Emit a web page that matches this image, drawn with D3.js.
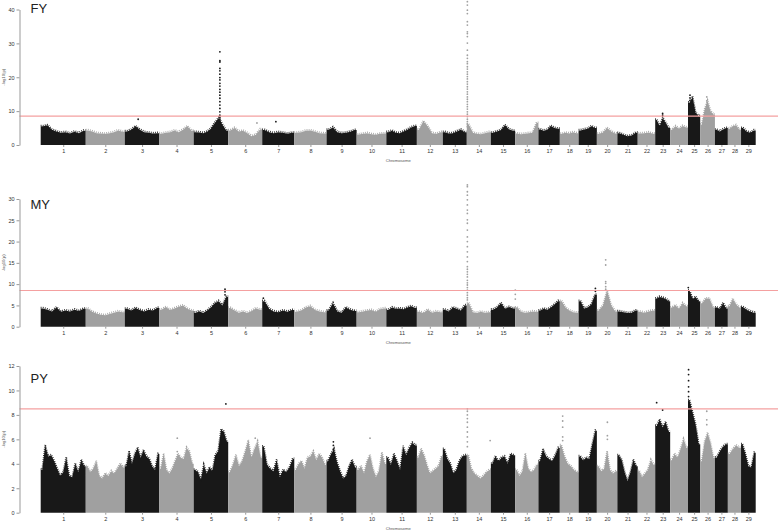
<!DOCTYPE html>
<meta charset="utf-8">
<style>
    body { margin: 0; background: #fff; }
    text { font-family: "Liberation Sans", Arial, sans-serif; }
    .tick text { fill: #333; }
</style>
<svg width="778" height="531"></svg>
<script src="https://d3js.org/d3.v7.min.js"></script>
<script>
    // bovine chromosomes, length in Mb
    var chromosomes = d3.range(1, 30);
    var chrLengths = [158.3, 137.1, 121.4, 120.7, 121.2, 119.5, 112.6, 113.4, 105.7, 104.3,
        107.3, 91.2, 84.2, 84.6, 85.3, 81.7, 75.2, 66.0, 64.1, 72.0,
        71.6, 61.4, 52.5, 62.7, 42.9, 51.7, 45.4, 46.3, 51.5];
    var threshold = 8.5;

    // upper envelope of -log10(p) along each chromosome, read left to right
    var fyProfile = [
        [5.5, 5.8, 4.5, 4, 3.6, 3.8, 3.4, 3.9, 3.5, 4.2],
        [4.3, 4, 3.5, 3.4, 3.3, 3.5, 3.8, 4.3, 3.9],
        [4, 4.5, 5.5, 4.5, 3.8, 3.6, 3.4, 3.5],
        [3.3, 3.6, 3.8, 4.3, 3.8, 4.5, 5.5, 4.2],
        [3.8, 3.7, 3.5, 3.9, 4.8, 6.5, 8, 6, 4.2],
        [4.3, 5, 4, 4.2, 3.5, 2.6, 3, 4.6],
        [4.4, 3.8, 3.5, 3.8, 3.6, 3.3, 3.6],
        [3.6, 3.8, 4.2, 4.3, 3.9, 3.5, 3.4],
        [4.5, 5.2, 3.8, 3.5, 3.6, 3.9, 4.4],
        [3.1, 3.3, 3.5, 3.2, 3, 3.3, 3.4],
        [3.8, 4.2, 3.6, 3.5, 4, 4.5, 5.2, 5.6],
        [4.5, 7, 5.5, 3.5, 3.3, 3.8],
        [3.8, 3.4, 3.5, 4, 4.5, 3.8],
        [6, 3.6, 3.3, 3.2, 3.5, 3.8],
        [3.6, 4, 4.4, 5.8, 4.6, 4.2],
        [3.4, 3.2, 3.3, 3.5, 3.6, 6.5],
        [4.6, 4.2, 4.5, 5.6, 5, 4.8],
        [3.3, 3.6, 3.4, 3.8, 3.5],
        [4.3, 4.6, 4.8, 5.5, 5],
        [3.3, 3.7, 5, 4, 3.4],
        [3.5, 3, 2.6, 2.8, 3.6],
        [3.4, 3.5, 3.7, 3.3],
        [7.4, 5.5, 8, 6.5, 5],
        [4.5, 5.5, 4.8, 5.6, 5.2],
        [12.5, 14.2, 9.5, 8.5],
        [6, 10.5, 13, 10, 9],
        [4.5, 4, 4.6, 5],
        [4.8, 5.5, 5.8, 4.5],
        [5, 4, 3.6, 4.3]
    ];
    var myProfile = [
        [4.3, 4, 3.6, 4.5, 3.5, 3.8, 3.6, 4, 3.7, 4.2],
        [4.2, 3.5, 3.1, 2.8, 2.7, 3, 3.3, 3.6, 3.4],
        [4.2, 3.8, 4.4, 3.9, 3.6, 4, 3.8, 4.4],
        [4, 4.6, 3.9, 4.3, 4.7, 5, 4.2, 3.8],
        [3.3, 3.6, 3.2, 3.8, 4.5, 5.5, 6, 5, 7],
        [4.4, 3.8, 3.3, 3.6, 3.2, 3.7, 4.3, 4],
        [6, 4.2, 3.6, 3.4, 3.8, 3.5, 3.9],
        [3.5, 3.8, 4.5, 4.8, 3.9, 3.6, 3.4],
        [3.8, 5.5, 3.6, 3.3, 4.5, 4, 3.7],
        [3.4, 3.6, 3.8, 3.9, 3.5, 4.1, 4.3],
        [3.9, 4.5, 4.2, 4.3, 4.1, 4.5, 4.8, 4.4],
        [3.5, 3.2, 4, 3.3, 3.6, 3.4],
        [4, 3.6, 4.5, 4.2, 3.8, 5],
        [5.5, 3.4, 3.2, 3.5, 3.3, 3.4],
        [4, 4.5, 5.5, 4.2, 4.6, 4.3],
        [4.5, 3.5, 3.3, 3.4, 3.6, 3.5],
        [3.8, 4.2, 4, 4.5, 5.2, 6],
        [6, 4.5, 3.8, 3.4, 3.3],
        [6, 4.3, 4.5, 5.2, 7.5],
        [3.8, 5, 8.5, 5, 3.6],
        [3.6, 3.4, 3.2, 3.3, 3.8],
        [3.5, 3.3, 3.6, 3.8],
        [6.6, 7, 6.8, 6.5, 6],
        [4.5, 5, 4.2, 5.5, 4.8],
        [8.5, 6.5, 7, 6],
        [5.5, 6.6, 6.6, 4.5],
        [4.5, 4.2, 5.5, 4.3],
        [4.8, 6.5, 5.2, 4.5],
        [4.6, 4, 3.6, 3.3]
    ];
    var pyProfile = [
        [3.5, 5.5, 4.6, 4.7, 4.2, 3.6, 3.0, 3.3, 4.5, 3.0, 2.9, 4.0, 3.3, 4.3, 3.8],
        [3.8, 3.3, 3.6, 4.2, 3, 2.8, 3.2, 3, 3.4, 3.2, 3.6, 4.0, 3.7],
        [3.8, 5, 4, 4.8, 5.3, 4.5, 5.1, 4.6, 4.4, 3.8, 3.5, 4.8],
        [3.6, 4.8, 3.5, 3.2, 3.6, 4.2, 4.8, 4.5, 4.4, 5.3, 5, 4],
        [3.5, 3.3, 2.7, 3.9, 3.2, 3.7, 3.4, 4.7, 5, 6.8, 6.6, 5.8],
        [3.3, 3.9, 4.7, 3.8, 4.2, 5, 5.9, 4.5, 5.2, 5.8, 4.5],
        [5.4, 3.9, 3.6, 3.4, 4.3, 2.9, 3.5, 3.3, 3.7, 4.4],
        [3.5, 4, 4.2, 3.6, 4.5, 4.6, 5, 4.3, 4.8, 4.5, 3.9],
        [4.2, 4.8, 5.2, 4.1, 3.4, 2.8, 3, 3.8, 4.3, 3.7],
        [3.5, 3.8, 3.2, 4.2, 4.7, 3.6, 2.9, 3.4, 4.9, 4],
        [4.5, 3.9, 4.8, 4.2, 3.5, 5.4, 4.7, 5.3, 5.7, 5.5],
        [4.5, 5.2, 4.7, 3.9, 3.2, 3.4, 3.6, 3.8, 4.6],
        [5.2, 4.4, 4, 3.2, 3.5, 4.2, 4.6, 4.7],
        [4.7, 3.6, 3.2, 3, 2.8, 3, 3.3, 3.5],
        [4, 4.6, 4.2, 4.5, 4.6, 4, 4.8, 4.7],
        [3.5, 3, 3.4, 4.8, 3.6, 3.3, 3.5, 3.9],
        [4.2, 5.2, 4.6, 4.4, 4.2, 4.7, 5.3],
        [5.5, 4.6, 4, 3.8, 3.5, 3.3],
        [4.6, 4.3, 4.5, 4.4, 5.6, 6.7],
        [3.8, 3.4, 3.6, 5, 3.5, 3.2, 3.4],
        [4.7, 4.3, 3.3, 2.6, 3.3, 4.3, 3.8],
        [3.4, 2.9, 3.2, 3.5, 4.3, 3.9],
        [7.1, 7.6, 7, 7.4, 6.6],
        [4.3, 4.8, 4.5, 5.2, 6, 5.3],
        [9.2, 8.2, 7.2, 5.6],
        [4.2, 5.8, 6.5, 5.7, 4.5],
        [4.5, 5, 5.4, 5.6],
        [4.8, 5.2, 5.5, 5.3],
        [5.6, 4.8, 3.8, 3.7, 4.9]
    ];

    // single SNPs standing out above the envelope: [chromosome, position Mb, values]
    var fySpikes = [
        [3, 47, [7.6]],
        [5, 92, [27.5, 24.9, 24.5, 22.6, 21.9, 20.9, 19.9, 19.2, 18.2, 17.4, 16.4, 15.6, 14.7, 13.8, 12.8, 11.8, 10.8, 9.8, 8.8, 8.2, 7.6, 7]],
        [6, 101, [6.5]],
        [7, 48, [6.9]],
        [14, 2, [42.3, 41.3, 39.8, 38.8, 36.4, 35.4, 33.4, 32.9, 32, 30.1, 28, 26.5, 25.6, 24.6, 24, 23.1, 22.4, 21.6, 20.9, 20.2, 19.5, 18.7, 18, 17.2, 16.5, 15.7, 15, 14.2, 13.5, 12.8, 12, 11.3, 10.6, 9.8, 9.1, 8.4, 7.6, 6.9, 6.2, 5.4]],
        [23, 26, [9.3, 8.8]],
        [25, 7, [14.7, 13.9, 13.2]],
        [26, 23, [14.2, 13, 12]]
    ];
    var mySpikes = [
        [5, 110, [8.8, 8.2, 7.5]],
        [7, 4, [6.7]],
        [14, 2, [33.3, 32.9, 31.7, 30.9, 29.8, 28.6, 27.4, 26.6, 25.1, 24.3, 22.7, 21.1, 20, 18.8, 17.6, 16.4, 15.3, 14.1, 13.5, 12.9, 12.3, 11.7, 10.9, 10.3, 9.8, 9.2, 8.6, 8, 7.4, 6.8, 6.3]],
        [16, 0.5, [8.6, 7.6, 6.5]],
        [19, 59, [9, 8.3]],
        [20, 31, [15.7, 14.5, 10.6, 10.2, 9.4, 8.8]],
        [25, 1, [9.2]]
    ];
    var pySpikes = [
        [4, 63, [6.1, 5.0]],
        [5, 113, [8.9]],
        [6, 95, [6.1]],
        [9, 24, [5.8, 5.5, 5.2]],
        [10, 47, [6.1]],
        [14, 2, [8.5, 8.3, 8.0, 7.7, 7.4, 7.0, 6.6, 6.2, 5.8, 5.4]],
        [14, 82, [5.9]],
        [18, 10, [7.9, 7.5, 7, 6.2, 5.9]],
        [20, 37, [7.4, 6.3, 6.0]],
        [23, 5, [9.0]],
        [23, 26, [8.4]],
        [25, 2, [11.7, 11.3, 10.8, 10.3, 9.9, 9.5]],
        [26, 23, [8.3, 7.6, 7.2]]
    ];

    var panels = [
        { name: "FY", profile: fyProfile, spikes: fySpikes, max: 40, step: 10, top: 9.5, base: 145, titleY: 13 },
        { name: "MY", profile: myProfile, spikes: mySpikes, max: 30, step: 5, top: 199, base: 326.7, titleY: 209 },
        { name: "PY", profile: pyProfile, spikes: pySpikes, max: 12, step: 2, top: 366, base: 512.7, titleY: 383 }
    ];

    var svg = d3.select("svg");
    var starts = [0].concat(Array.from(d3.cumsum(chrLengths)));
    var x = d3.scaleLinear()
        .domain([0, d3.sum(chrLengths)])
        .range([40.7, 755.7]);
    var centers = chromosomes.map(function (c, i) { return starts[i] + chrLengths[i] / 2; });
    function color(c) { return c % 2 ? "#181818" : "#a0a0a0"; }

    panels.forEach(function (p) {
        var y = d3.scaleLinear().domain([0, p.max]).range([p.base, p.top]);
        var g = svg.append("g");
        var area = d3.area()
            .x(function (d) { return x(d[0]); })
            .y0(y(0))
            .y1(function (d) { return y(d[1]); });
        var edge = d3.line()
            .x(function (d) { return x(d[0]); })
            .y(function (d) { return y(d[1]) - 0.8; });

        // dense SNP cloud: envelope sampled at window centres, flat to the chromosome ends
        p.profile.forEach(function (vals, i) {
            var s = starts[i], len = chrLengths[i], n = vals.length;
            var pts = vals.map(function (v, j) { return [s + len * (j + 0.5) / n, v]; });
            pts.unshift([s, vals[0]]);
            pts.push([s + len, vals[n - 1]]);
            g.append("path")
                .datum(pts)
                .attr("d", area)
                .attr("fill", color(i + 1));
            // ragged fringe of scattered SNPs along the top
            g.append("path")
                .datum(pts)
                .attr("d", edge)
                .attr("fill", "none")
                .attr("stroke", color(i + 1))
                .attr("stroke-width", 1.6)
                .attr("stroke-dasharray", "0.8,1.3");
        });

        // isolated SNPs
        p.spikes.forEach(function (s) {
            g.append("g").selectAll("circle").data(s[2]).enter().append("circle")
                .attr("cx", x(starts[s[0] - 1] + s[1]))
                .attr("cy", function (d) { return y(d); })
                .attr("r", 0.9)
                .attr("fill", color(s[0]));
        });

        // genome-wide threshold
        g.append("line")
            .attr("x1", 19.5).attr("x2", 778)
            .attr("y1", y(threshold)).attr("y2", y(threshold))
            .attr("stroke", "#f4a0a0").attr("stroke-width", 1.2);

        // y axis
        var ya = g.append("g")
            .attr("transform", "translate(19.5,0)")
            .call(d3.axisLeft(y).tickValues(d3.range(0, p.max + 0.1, p.step)).tickSize(3).tickSizeOuter(0).tickPadding(2));
        ya.select(".domain").attr("stroke", "#999");
        ya.selectAll(".tick line").attr("stroke", "#999");
        ya.selectAll("text").attr("font-size", 5.5).attr("font-family", "Liberation Sans, Arial, sans-serif");

        g.append("text")
            .attr("transform", "translate(5," + ((p.top + p.base) / 2) + ") rotate(-90)")
            .attr("text-anchor", "middle")
            .attr("font-size", 4.2)
            .attr("fill", "#555")
            .text("-log10(p)");

        // chromosome axis
        var xa = g.append("g")
            .attr("transform", "translate(0," + p.base + ")")
            .call(d3.axisBottom(x).tickValues(centers).tickSize(2).tickPadding(2)
                .tickFormat(function (d) { return chromosomes[centers.indexOf(d)]; }));
        xa.select(".domain").remove();
        xa.selectAll(".tick line").attr("stroke", "#999");
        xa.selectAll("text").attr("font-size", 5.5).attr("font-family", "Liberation Sans, Arial, sans-serif");

        g.append("text")
            .attr("x", (x.range()[0] + x.range()[1]) / 2)
            .attr("y", p.base + 17)
            .attr("text-anchor", "middle")
            .attr("font-size", 4.2)
            .attr("fill", "#555")
            .text("Chromosome");

        g.append("text")
            .attr("x", 30.5)
            .attr("y", p.titleY)
            .attr("font-size", 13)
            .attr("fill", "#222")
            .text(p.name);
    });
</script>
